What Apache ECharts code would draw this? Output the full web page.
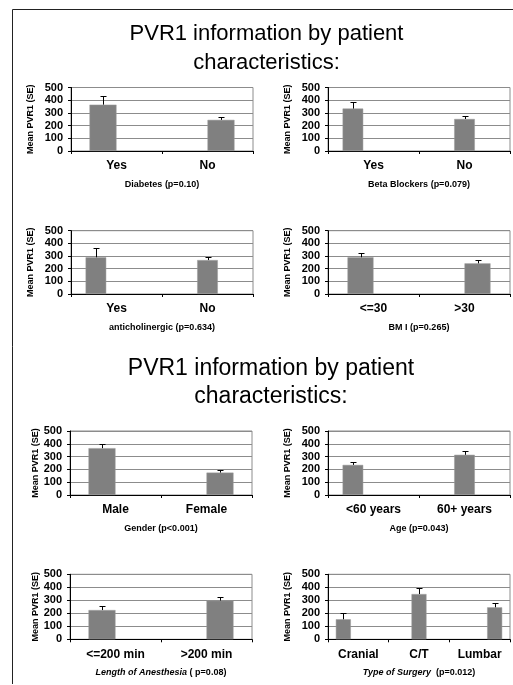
<!DOCTYPE html>
<html>
<head>
<meta charset="utf-8">
<script src="https://cdn.jsdelivr.net/npm/echarts@6/dist/echarts.min.js"></script>
<style>
  html, body { margin: 0; padding: 0; background: #fff; }
  #chart { width: 513px; height: 685px; }
</style>
</head>
<body>
<div id="chart"></div>
<script>
// Headings and shared axis text
const headingText = 'PVR1 information by patient\ncharacteristics:';
const valueAxisName = 'Mean PVR1 (SE)';
const valueTicks = [0, 100, 200, 300, 400, 500];

// Diabetes
const diabetesCats = ['Yes', 'No'];
const diabetesMean = [365, 245];
const diabetesSE = [65, 22];
const diabetesLabel = 'Diabetes (p=0.10)';

// Beta blockers
const betaCats = ['Yes', 'No'];
const betaMean = [334, 252];
const betaSE = [53, 21];
const betaLabel = 'Beta Blockers (p=0.079)';

// Anticholinergic
const antiCats = ['Yes', 'No'];
const antiMean = [290, 268];
const antiSE = [71, 22];
const antiLabel = 'anticholinergic (p=0.634)';

// BMI
const bmiCats = ['<=30', '>30'];
const bmiMean = [290, 242];
const bmiSE = [31, 26];
const bmiLabel = 'BM I (p=0.265)';

// Gender
const genderCats = ['Male', 'Female'];
const genderMean = [366, 175];
const genderSE = [32, 21];
const genderLabel = 'Gender (p<0.001)';

// Age
const ageCats = ['<60 years', '60+ years'];
const ageMean = [235, 314];
const ageSE = [26, 33];
const ageLabel = 'Age (p=0.043)';

// Length of anesthesia
const anesCats = ['<=200 min', '>200 min'];
const anesMean = [225, 298];
const anesSE = [31, 30];
const anesLabel = '{i|Length of Anesthesia} ( p=0.08)';

// Type of surgery
const surgeryCats = ['Cranial', 'C/T', 'Lumbar'];
const surgeryMean = [154, 348, 246];
const surgerySE = [46, 44, 31];
const surgeryLabel = '{i|Type of Surgery}  (p=0.012)';

const FONT = '"Liberation Sans", Arial, sans-serif';

// Each panel: its data plus where it sits. `groups` is the number of
// clustered bar slots per category, `slots` says which slot each bar uses.
const panels = [
  { cats: diabetesCats, mean: diabetesMean, se: diabetesSE, label: diabetesLabel,
    box: [71, 87.5, 182, 63.5], groups: 2, slots: [0, 1], barW: 27, yGap: 36 },
  { cats: betaCats, mean: betaMean, se: betaSE, label: betaLabel,
    box: [328, 87.5, 182, 63.5], groups: 3, slots: [0, 1], barW: 20.6, yGap: 36 },
  { cats: antiCats, mean: antiMean, se: antiSE, label: antiLabel,
    box: [71, 230.7, 182, 63.3], groups: 3, slots: [0, 1], barW: 20.6, yGap: 36 },
  { cats: bmiCats, mean: bmiMean, se: bmiSE, label: bmiLabel,
    box: [328, 230.7, 182, 63.3], groups: 2, slots: [0, 1], barW: 26, yGap: 36 },
  { cats: genderCats, mean: genderMean, se: genderSE, label: genderLabel,
    box: [70, 431, 182, 64], groups: 2, slots: [0, 1], barW: 27, yGap: 17 },
  { cats: ageCats, mean: ageMean, se: ageSE, label: ageLabel,
    box: [328, 431, 182, 64], groups: 3, slots: [0, 1], barW: 20.6, yGap: 36 },
  { cats: anesCats, mean: anesMean, se: anesSE, label: anesLabel,
    box: [70, 574.3, 182, 65], groups: 2, slots: [0, 1], barW: 27, yGap: 17 },
  { cats: surgeryCats, mean: surgeryMean, se: surgerySE, label: surgeryLabel,
    box: [328, 574.3, 182, 65], groups: 3, slots: [0, 1, 2], barW: 15, yGap: 36 }
];

// Upward-only error whisker with a short cap, shifted onto its bar slot
function whisker(p) {
  return function (params, api) {
    const i = api.value(0), m = api.value(1), e = api.value(2);
    const shift = (p.slots[i] - (p.groups - 1) / 2) * p.barW;
    const base = api.coord([i, m]);
    const tip = api.coord([i, m + e]);
    const x = Math.round(base[0] + shift) + 0.5;
    const yt = Math.round(tip[1]) + 0.5;
    return {
      type: 'group',
      children: [
        { type: 'line', shape: { x1: x, y1: base[1], x2: x, y2: yt },
          style: { stroke: '#000', lineWidth: 1 } },
        { type: 'line', shape: { x1: x - 3, y1: yt, x2: x + 3, y2: yt },
          style: { stroke: '#000', lineWidth: 1 } }
      ]
    };
  };
}

const grids = [], xAxes = [], yAxes = [], series = [];
panels.forEach((p, k) => {
  grids.push({
    left: p.box[0], top: p.box[1], width: p.box[2], height: p.box[3],
    show: true, borderColor: '#8c8c8c', borderWidth: 1, backgroundColor: '#fff',
    containLabel: false, outerBoundsMode: 'none'
  });
  xAxes.push({
    type: 'category', gridIndex: k, data: p.cats,
    axisLine: { lineStyle: { color: '#000', width: 1 } },
    axisTick: { show: true, length: 3, lineStyle: { color: '#000' } },
    axisLabel: { color: '#000', fontFamily: FONT, fontWeight: 'bold', fontSize: 12, margin: 9 },
    name: p.label, nameLocation: 'middle', nameGap: 29,
    nameTextStyle: {
      color: '#000', fontFamily: FONT, fontWeight: 'bold', fontSize: 9,
      rich: { i: { fontFamily: FONT, fontWeight: 'bold', fontStyle: 'italic', fontSize: 9, color: '#000' } }
    }
  });
  yAxes.push({
    type: 'value', gridIndex: k,
    min: valueTicks[0], max: valueTicks[valueTicks.length - 1],
    interval: valueTicks[1] - valueTicks[0],
    axisLine: { show: true, lineStyle: { color: '#000', width: 1 } },
    axisTick: { show: true, length: 3, lineStyle: { color: '#000' } },
    splitLine: { show: true, lineStyle: { color: '#8c8c8c', width: 1 } },
    axisLabel: { color: '#000', fontFamily: FONT, fontWeight: 'bold', fontSize: 11, margin: 8 },
    name: valueAxisName, nameLocation: 'middle', nameRotate: 90, nameGap: p.yGap,
    nameTextStyle: { color: '#000', fontFamily: FONT, fontWeight: 'bold', fontSize: 9 }
  });
  for (let s = 0; s < p.groups; s++) {
    series.push({
      type: 'bar', xAxisIndex: k, yAxisIndex: k,
      data: p.mean.map((v, i) => (p.slots[i] === s ? v : '-')),
      barWidth: p.barW, barGap: '0%',
      itemStyle: { color: '#808080', borderColor: '#9a9a9a', borderWidth: 0.5 },
      emphasis: { disabled: true }, silent: true, animation: false
    });
  }
  series.push({
    type: 'custom', xAxisIndex: k, yAxisIndex: k, z: 5,
    data: p.mean.map((v, i) => [i, v, p.se[i]]),
    renderItem: whisker(p), silent: true, animation: false
  });
});

const chart = echarts.init(document.getElementById('chart'), null, { renderer: 'canvas' });
chart.setOption({
  backgroundColor: '#fff',
  animation: false,
  title: [
    { text: headingText, left: 261.5, top: 15, textAlign: 'center',
      textStyle: { fontFamily: FONT, fontWeight: 'normal', fontSize: 22, lineHeight: 28.5, color: '#000' } },
    { text: headingText, left: 266, top: 349, textAlign: 'center',
      textStyle: { fontFamily: FONT, fontWeight: 'normal', fontSize: 23, lineHeight: 28.5, color: '#000' } }
  ],
  graphic: [
    { type: 'polyline', silent: true,
      shape: { points: [[12.5, 684], [12.5, 9.5], [513, 9.5]] },
      style: { stroke: '#222', lineWidth: 1, fill: null } }
  ],
  grid: grids,
  xAxis: xAxes,
  yAxis: yAxes,
  series: series
});
</script>
</body>
</html>
